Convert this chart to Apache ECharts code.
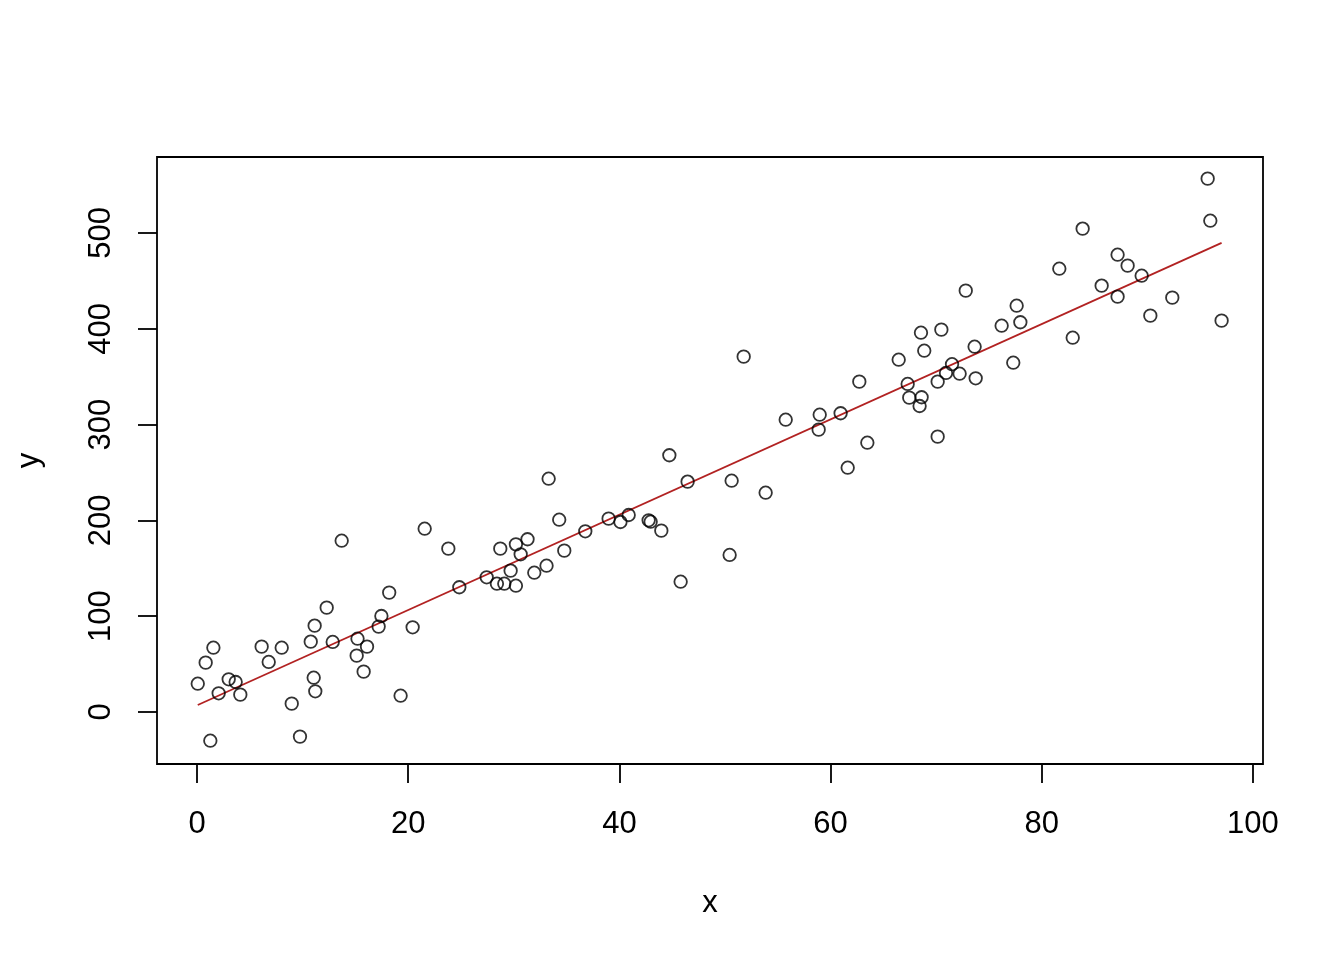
<!DOCTYPE html>
<html>
<head>
<meta charset="utf-8">
<script src="https://cdn.jsdelivr.net/npm/echarts@6/dist/echarts.min.js"></script>
<style>html,body{margin:0;padding:0;background:#fff}#c{width:1344px;height:960px}</style>
</head>
<body>
<div id="c"></div>
<script>
const xVals = [0.07,0.82,1.55,1.26,2.05,3.0,3.66,4.1,6.12,6.79,8.02,8.97,9.75,10.77,11.14,11.05,11.2,12.28,13.7,12.85,
15.2,15.12,16.1,15.78,17.2,17.46,18.2,19.28,20.42,21.56,23.8,24.84,27.43,28.72,28.4,29.1,30.2,29.7,30.2,30.65,
31.3,31.94,33.1,33.3,34.3,34.78,36.77,38.98,40.1,40.88,42.77,42.96,43.97,44.73,46.46,45.8,50.63,50.44,51.77,53.85,
55.75,58.97,58.87,60.95,63.48,61.62,62.72,66.45,68.87,68.56,67.3,67.45,68.62,68.43,70.14,70.14,70.49,70.93,71.5,72.22,
72.8,73.64,73.74,76.2,77.62,77.97,77.3,81.66,82.93,83.87,85.67,87.18,88.13,87.18,89.46,90.28,92.36,95.71,95.96,97.03];
const yVals = [29.5,51.5,67.1,-30,19.5,34.1,31.3,18.1,68.2,52.2,67.1,8.7,-25.7,73.4,90.1,35.8,21.6,108.9,178.8,73.1,
76.5,58.8,68.2,42.1,89.1,100.2,124.6,17.0,88.4,191.3,170.5,130.2,140.6,170.5,133.9,133.9,131.8,147.5,175.0,164.6,
180.3,145.4,152.7,243.5,200.7,168.4,188.6,201.8,198.3,205.6,200.1,198.6,189.3,268,240.4,136,241.4,163.9,370.9,228.9,
305.1,310.3,294.7,311.8,281.1,255.0,344.8,367.7,377.1,395.9,342.4,328.1,328.5,319.4,344.8,287.4,399.1,353.9,363,353.1,
439.8,381.3,348.3,403.2,424.1,406.8,364.6,462.7,390.7,504.5,445,477.3,465.9,433.5,455.4,413.7,432.5,556.7,512.8,408.5];
const fitX = [0.07, 97.03];
const fitY = [7.3, 489.6];
const xTicks = [0, 20, 40, 60, 80, 100];
const yTicks = [0, 100, 200, 300, 400, 500];
const xName = 'x';
const yName = 'y';

const pts = xVals.map((v, i) => [v, yVals[i]]);
const fit = fitX.map((v, i) => [v, fitY[i]]);
const font = 'Liberation Sans, Arial, sans-serif';
const chart = echarts.init(document.getElementById('c'), null, {renderer: 'canvas'});
chart.setOption({
  animation: false,
  backgroundColor: '#fff',
  grid: {left: 157, right: 81, top: 157, bottom: 196, show: true, borderColor: '#000', borderWidth: 1.8,
         backgroundColor: 'transparent', containLabel: false, outerBoundsMode: 'none'},
  xAxis: {
    type: 'value', min: -3.79, max: 100.95,
    name: xName, nameLocation: 'middle', nameGap: 124,
    nameTextStyle: {color: '#000', fontSize: 31, fontFamily: font},
    axisLine: {show: false, onZero: false},
    splitLine: {show: false},
    axisTick: {show: true, inside: false, length: 19, customValues: xTicks, lineStyle: {color: '#000', width: 1.8}},
    axisLabel: {show: true, margin: 45, customValues: xTicks, color: '#000', fontSize: 31, fontFamily: font}
  },
  yAxis: {
    type: 'value', min: -54.3, max: 579.3,
    name: yName, nameLocation: 'middle', nameGap: 112,
    nameTextStyle: {color: '#000', fontSize: 31, fontFamily: font},
    axisLine: {show: false, onZero: false},
    splitLine: {show: false},
    axisTick: {show: true, inside: false, length: 19, customValues: yTicks, lineStyle: {color: '#000', width: 1.8}},
    axisLabel: {show: true, margin: 40, rotate: 90, customValues: yTicks, color: '#000', fontSize: 31, fontFamily: font}
  },
  series: [
    {type: 'scatter', data: pts, symbol: 'circle', symbolSize: 12.5,
     itemStyle: {color: 'rgba(0,0,0,0)', borderColor: '#000', borderWidth: 1.8}, z: 3},
    {type: 'line', data: fit, showSymbol: false, symbol: 'none',
     lineStyle: {color: '#B22222', width: 1.8}, z: 2}
  ]
});
</script>
</body>
</html>
